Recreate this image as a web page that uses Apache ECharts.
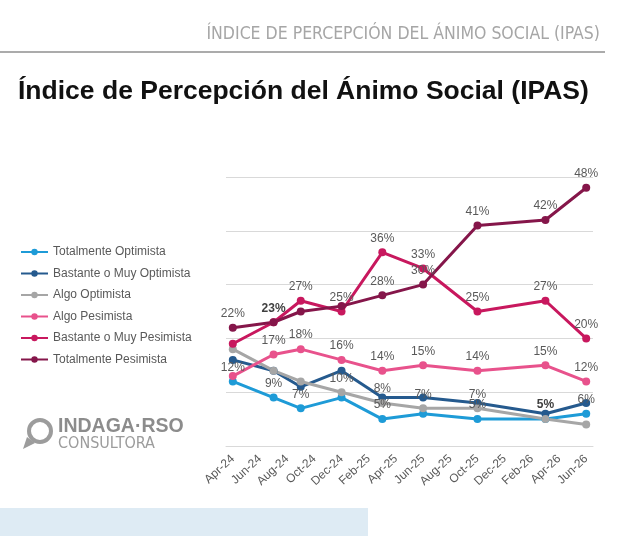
<!DOCTYPE html>
<html>
<head>
<meta charset="utf-8">
<script src="https://cdn.jsdelivr.net/npm/echarts@6/dist/echarts.min.js"></script>
<style>
  html, body { margin: 0; padding: 0; background: #fff; }
  #chart { width: 640px; height: 536px; }
</style>
</head>
<body>
<div id="chart"></div>
<script>
// meses del eje (etiqueta cada dos meses)
const months = ["Apr-24", "May-24", "Jun-24", "Jul-24", "Aug-24", "Sep-24", "Oct-24", "Nov-24", "Dec-24",
  "Jan-25", "Feb-25", "Mar-25", "Apr-25", "May-25", "Jun-25", "Jul-25", "Aug-25", "Sep-25", "Oct-25",
  "Nov-25", "Dec-25", "Jan-26", "Feb-26", "Mar-26", "Apr-26", "May-26", "Jun-26"];

// fechas de medición
const surveys = ["Apr-24", "Jul-24", "Sep-24", "Dec-24", "Mar-25", "Jun-25", "Oct-25", "Mar-26", "Jun-26"];

const totOptimista = [12, 9, 7, 9, 5, 6, 5, 5, 6];
const bastOptimista = [16, 14, 11, 14, 9, 9, 8, 6, 8];
const algoOptimista = [18, 14, 12, 10, 8, 7, 7, 5, 4];
const algoPesimista = [13, 17, 18, 16, 14, 15, 14, 15, 12];
const bastPesimista = [19, 23, 27, 25, 36, 33, 25, 27, 20];
const totPesimista = [22, 23, 25, 26, 28, 30, 41, 42, 48];

// etiquetas visibles en el original (0 = no, 1 = sí, 2 = negrita)
const lblTotOpt = [1, 1, 1, 0, 1, 0, 1, 2, 1];
const lblBastOpt = [0, 0, 0, 0, 0, 0, 0, 0, 0];
const lblAlgoOpt = [0, 0, 0, 1, 1, 1, 1, 0, 0];
const lblAlgoPes = [0, 1, 1, 1, 1, 1, 1, 1, 1];
const lblBastPes = [0, 0, 1, 1, 1, 1, 1, 1, 1];
const lblTotPes = [1, 2, 0, 0, 1, 1, 1, 1, 1];

const FONT = '"Liberation Sans", Arial, sans-serif';

const mkSeries = (name, values, flags, color) => ({
  name: name,
  type: "line",
  symbol: "circle",
  symbolSize: 8,
  lineStyle: { width: 3, color: color },
  itemStyle: { color: color },
  label: {
    position: "top",
    distance: 4,
    fontSize: 12,
    fontFamily: FONT,
    color: "#595959",
    formatter: (p) => p.value[1] + "%",
  },
  data: surveys.map((d, i) => ({
    value: [d, values[i]],
    label: {
      show: flags[i] > 0,
      fontWeight: flags[i] === 2 ? "bold" : "normal",
      color: flags[i] === 2 ? "#404040" : "#595959",
    },
  })),
});

const chart = echarts.init(document.getElementById("chart"));

chart.setOption({
  animation: false,
  backgroundColor: "#fff",
  title: {
    text: "Índice de Percepción del Ánimo Social (IPAS)",
    left: 13,
    top: 73,
    textStyle: { fontSize: 26.5, fontWeight: "bold", color: "#111", fontFamily: FONT },
  },
  legend: {
    orient: "vertical",
    left: 15,
    top: 240,
    itemWidth: 27,
    itemHeight: 8,
    itemGap: 7.5,
    textStyle: { fontSize: 12, color: "#595959", fontFamily: FONT, lineHeight: 14 },
  },
  grid: { left: 226, right: 47, top: 177, bottom: 90 },
  xAxis: {
    type: "category",
    data: months,
    boundaryGap: true,
    axisLine: { lineStyle: { color: "#D9D9D9" } },
    axisTick: { show: false },
    axisLabel: { interval: 1, rotate: 43, margin: 11, fontSize: 12, color: "#595959", fontFamily: FONT },
  },
  yAxis: {
    type: "value",
    min: 0,
    max: 50,
    interval: 10,
    axisLabel: { show: false },
    axisLine: { show: false },
    axisTick: { show: false },
    splitLine: { lineStyle: { color: "#D9D9D9" } },
  },
  series: [
    mkSeries("Totalmente Optimista", totOptimista, lblTotOpt, "#1E9BD7"),
    mkSeries("Bastante o Muy Optimista", bastOptimista, lblBastOpt, "#255A8E"),
    mkSeries("Algo Optimista", algoOptimista, lblAlgoOpt, "#A6A6A6"),
    mkSeries("Algo Pesimista", algoPesimista, lblAlgoPes, "#E8528C"),
    mkSeries("Bastante o Muy Pesimista", bastPesimista, lblBastPes, "#C8185E"),
    mkSeries("Totalmente Pesimista", totPesimista, lblTotPes, "#85164A"),
  ],
  graphic: [
    {
      type: "text",
      style: {
        text: "ÍNDICE DE PERCEPCIÓN DEL ÁNIMO SOCIAL (IPAS)",
        x: 600, y: 34, align: "right", verticalAlign: "middle",
        fill: "#A6A6A6",
        font: '17.5px "Liberation Sans Narrow", "DejaVu Sans Condensed", sans-serif',
      },
    },
    { type: "line", shape: { x1: 0, y1: 52, x2: 605, y2: 52 }, style: { stroke: "#595959", lineWidth: 1.2 } },
    // logo
    { type: "circle", shape: { cx: 40, cy: 431, r: 11 }, style: { fill: "none", stroke: "#9C9C9C", lineWidth: 4 } },
    { type: "polygon", shape: { points: [[27, 437], [23, 449], [35, 443]] }, style: { fill: "#9C9C9C" } },
    {
      type: "text",
      style: { text: "INDAGA·RSO", x: 58, y: 427, verticalAlign: "middle", fill: "#8C8C8C", font: 'bold 19.5px "Liberation Sans", Arial, sans-serif' },
    },
    {
      type: "text",
      style: { text: "CONSULTORA", x: 58, y: 444, verticalAlign: "middle", fill: "#9C9C9C", font: '16px "Liberation Sans Narrow", "DejaVu Sans Condensed", sans-serif' },
    },
    { type: "rect", shape: { x: 0, y: 508, width: 368, height: 28 }, style: { fill: "#DEEBF4" } },
  ],
});
</script>
</body>
</html>
